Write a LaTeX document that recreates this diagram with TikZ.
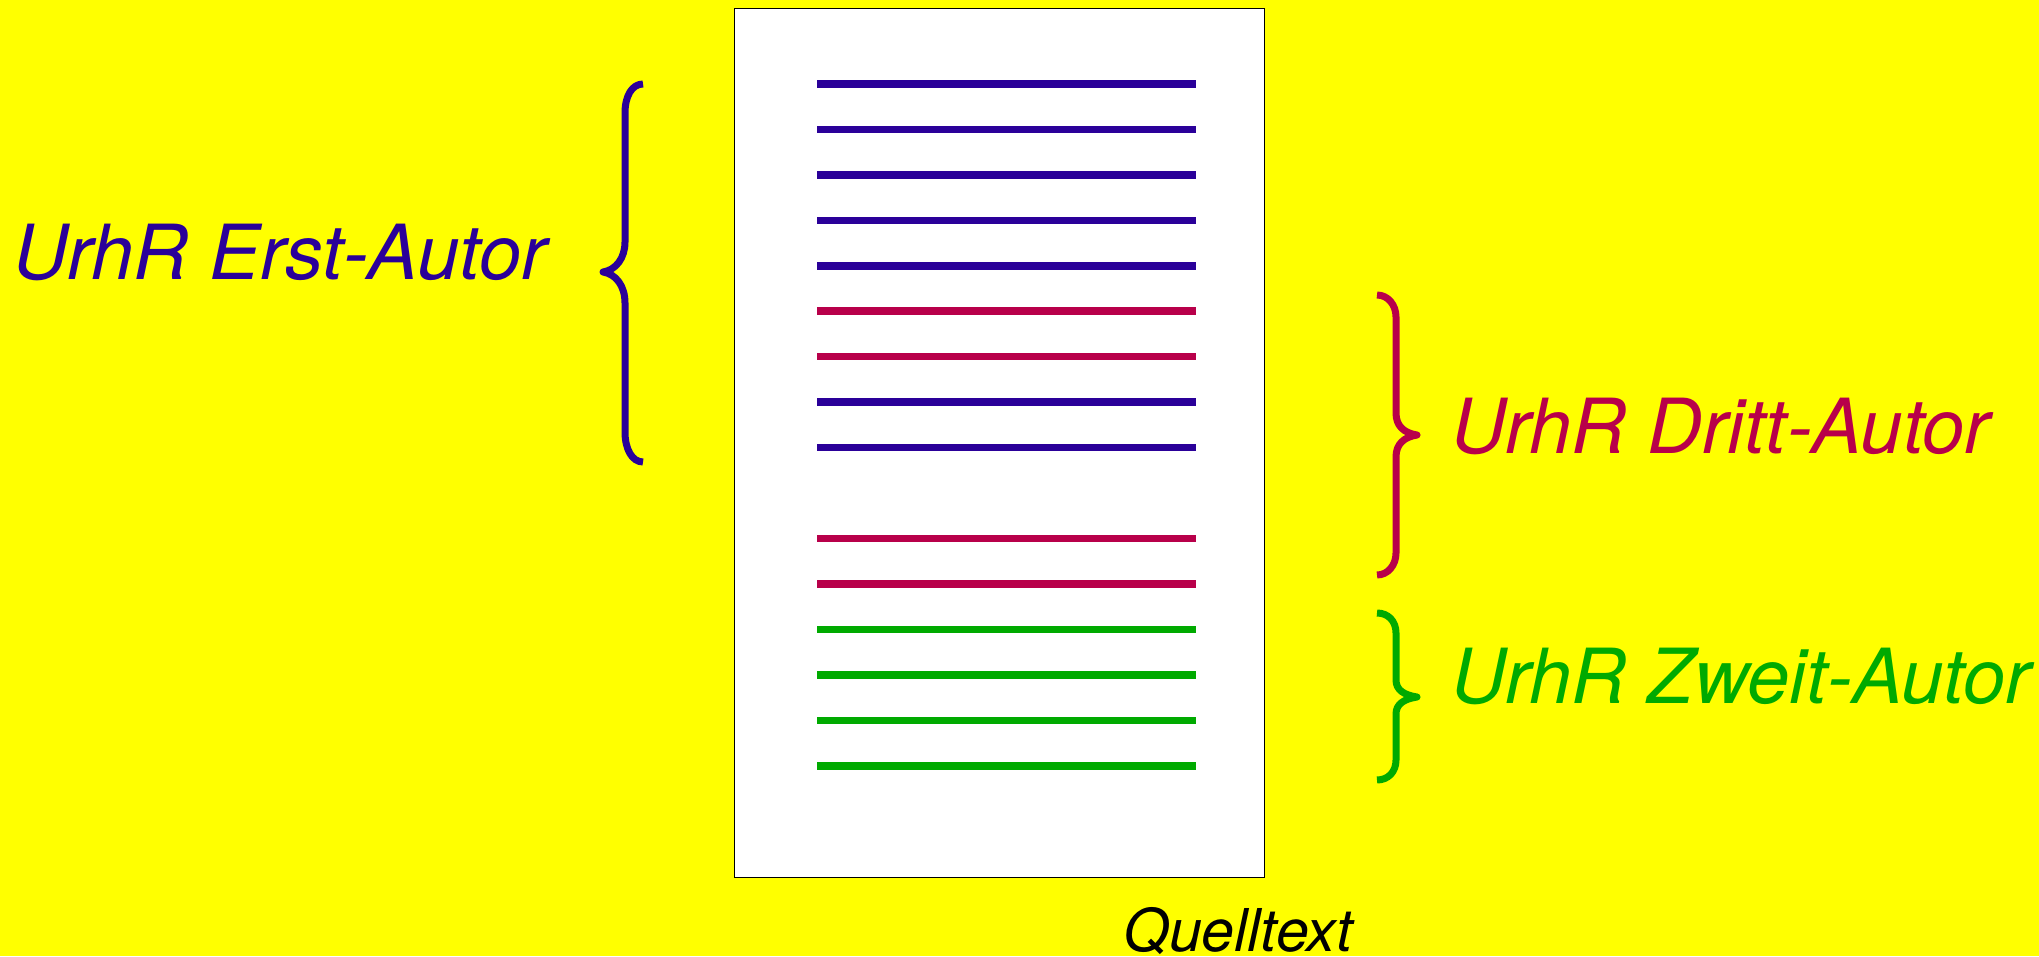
\documentclass[tikz,border=0pt]{standalone}
\usepackage{fontspec}
\setmainfont{TeX Gyre Heros}
\definecolor{bgyellow}{HTML}{FFFF00}
\definecolor{cblue}{HTML}{2A0099}
\definecolor{cmag}{HTML}{B8004A}
\definecolor{cgreen}{HTML}{00AA00}
\begin{document}
\begin{tikzpicture}[x=1pt,y=-1pt,
  txtline/.style={line width=7.5pt},
  bracestyle/.style={line width=7pt, line join=round},
  lbl/.style={inner sep=0pt, anchor=base west, font=\fontsize{76}{90}\selectfont\itshape},
  smalllbl/.style={inner sep=0pt, anchor=base west, font=\fontsize{59}{70}\selectfont\itshape}]
\fill[bgyellow] (0,0) rectangle (2039,956);
\useasboundingbox (0,0) rectangle (2039,956);
% page
\node[draw=black, line width=1.2pt, fill=white, minimum width=530pt, minimum height=869pt, inner sep=0pt, anchor=north west] (page) at (734,8) {};
% text lines
\foreach \y/\c in {84/cblue,129.5/cblue,175/cblue,220.5/cblue,266/cblue,311/cmag,356.5/cmag,402/cblue,447.5/cblue,538.5/cmag,584/cmag,629.5/cgreen,675/cgreen,720.5/cgreen,766/cgreen}
  \draw[txtline, \c] (817,\y) -- (1196,\y);
% left brace
\draw[bracestyle, cblue] (643,84) .. controls (632,84) and (625,96) .. (625,113) -- (625,242) .. controls (625,258) and (616,270) .. (603,272) .. controls (616,274) and (625,286) .. (625,303) -- (625,432) .. controls (625,449) and (632,462) .. (643,462);
% right brace (Dritt)
\draw[bracestyle, cmag] (1377,295) .. controls (1388,295) and (1396,305) .. (1396,317) -- (1396,413) .. controls (1396,426) and (1404,433) .. (1417,435) .. controls (1404,437) and (1396,444) .. (1396,457) -- (1396,553) .. controls (1396,565) and (1388,575) .. (1377,575);
% right brace (Zweit)
\draw[bracestyle, cgreen] (1377,613) .. controls (1388,613) and (1396,621) .. (1396,633) -- (1396,680) .. controls (1396,690) and (1404,695) .. (1417,697) .. controls (1404,699) and (1396,704) .. (1396,714) -- (1396,760) .. controls (1396,772) and (1388,780) .. (1377,780);
% labels
\node[lbl, text=cblue] (erst) at (13,279) {UrhR Erst-Autor};
\node[lbl, text=cmag] (dritt) at (1451,453) {UrhR Dritt-Autor};
\node[lbl, text=cgreen] (zweit) at (1451,703) {UrhR Zweit-Autor};
\node[smalllbl, text=black] (quell) at (1123,951) {Quelltext};
\end{tikzpicture}
\end{document}
